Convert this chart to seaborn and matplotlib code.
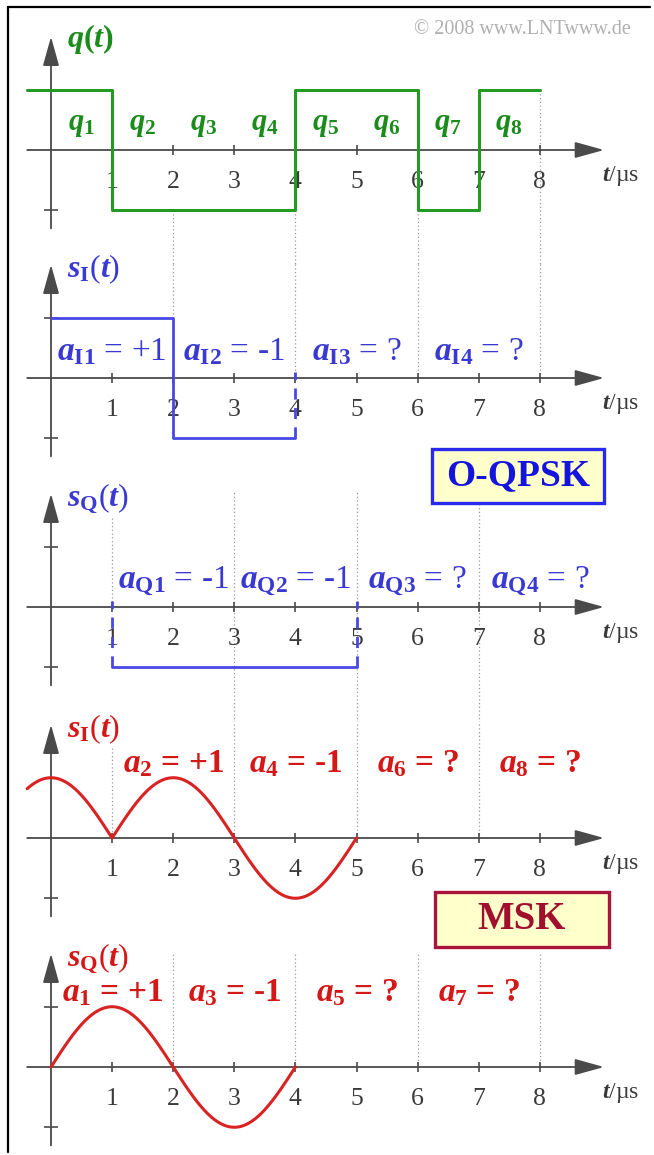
import numpy as np
import pandas as pd
import matplotlib
matplotlib.use("Agg")
import matplotlib.pyplot as plt
import seaborn as sns
from matplotlib.patches import Rectangle
from matplotlib.lines import Line2D

# ---------------- data ----------------
q_symbols = [+1, -1, -1, -1, +1, +1, -1, +1]          # q1 .. q8, T_B = 1 us
q_labels = [rf"$\mathbfit{{q}}_{{\mathbf{{{k}}}}}$" for k in range(1, 9)]

oqpsk_I_symbols = [+1, -1]                             # a_I1, a_I2 (2 us each, from t=0)
oqpsk_Q_symbols = [-1, -1]                             # a_Q1, a_Q2 (2 us each, from t=1)
oqpsk_I_text = ["+1", "-1", "?", "?"]
oqpsk_Q_text = ["-1", "-1", "?", "?"]

msk_I_symbols = [+1, +1, -1]                           # a0 (preceding), a2, a4
msk_Q_symbols = [+1, -1]                               # a1, a3
msk_I_text = ["+1", "-1", "?", "?"]                    # a2, a4, a6, a8
msk_Q_text = ["+1", "-1", "?", "?"]                    # a1, a3, a5, a7

tick_values = list(range(1, 9))

# ---------------- style ----------------
sns.set_theme(style="white")
plt.rcParams["font.family"] = ["Liberation Serif", "DejaVu Serif"]
plt.rcParams["mathtext.fontset"] = "custom"
plt.rcParams["mathtext.rm"] = "Liberation Serif"
plt.rcParams["mathtext.it"] = "Liberation Serif:italic"
plt.rcParams["mathtext.bf"] = "Liberation Serif:bold"
plt.rcParams["mathtext.bfit"] = "Liberation Serif:bold:italic"

AX = "#4a4a4a"
GREEN = "#239b23"
GREEN_TXT = "#1b8c1b"
BLUE = "#4848e4"
BLUE_TXT = "#3a3ad2"
RED = "#d92222"
RED_TXT = "#d41818"
DOT = "#9a9a9a"

LABEL_FS = 24
TITLE_FS = 23

W, H = 654, 1155
fig = plt.figure(figsize=(W / 100, H / 100), dpi=100)
fig.patch.set_facecolor("white")

T0_PX, PX_PER_T = 51, 61.1
XLIM = (-T0_PX / PX_PER_T, (W - T0_PX) / PX_PER_T)
SLOT = 229
YLIM = (-1.9, 1.9)
zero_px = [150, 378, 607, 838, 1067]
T_START, T_ARROW = -0.39, 9.05


def make_axes(zp):
    bottom = (H - (zp + SLOT / 2)) / H
    ax = fig.add_axes([0, bottom, 1, SLOT / H])
    ax.set_xlim(XLIM)
    ax.set_ylim(YLIM)
    ax.set_axis_off()
    ax.patch.set_alpha(0)
    return ax


def draw_frame(ax):
    arrow = dict(arrowstyle="-|>,head_length=18,head_width=5", mutation_scale=1,
                 lw=1.3, color=AX, shrinkA=0, shrinkB=0)
    ax.annotate("", xy=(T_ARROW, 0), xytext=(T_START, 0), arrowprops=arrow, zorder=2)
    ax.annotate("", xy=(0, 1.88), xytext=(0, -1.3), arrowprops=arrow, zorder=2)
    ax.vlines(tick_values, -0.08, 0.08, color=AX, lw=1.2, zorder=2)
    ax.hlines([-1, 1], -0.11, 0.11, color=AX, lw=1.2, zorder=2)
    for k in tick_values:
        ax.text(k, -0.53, str(k), ha="center", va="center", fontsize=18.5,
                color="#3a3a3a", zorder=1)
    ax.text(9.32, -0.43, r"$\mathbfit{t}$/µs", ha="center", va="center",
            fontsize=17, color="#3a3a3a")


def dotted(ax, specs):
    for t, y0, y1 in specs:
        ax.vlines(t, y0, y1, color=DOT, lw=0.9, linestyles=(0, (1, 2)), zorder=0)


def rect_points(t0, width, symbols, first=None):
    xs, ys = [], []
    for i, s in enumerate(symbols):
        xs += [t0 + i * width, t0 + (i + 1) * width]
        ys += [s, s]
    if first is not None:
        xs[0] = first
    return xs, ys


def msk_points(symbols, centers, shape, t_from, t_to):
    frames = []
    for a, c in zip(symbols, centers):
        lo, hi = max(c - 1, t_from), min(c + 1, t_to)
        tt = np.linspace(lo, hi, 120)
        frames.append(pd.DataFrame({"t": tt, "s": a * np.abs(shape(np.pi * tt / 2))}))
    return pd.concat(frames, ignore_index=True)


axes = [make_axes(z) for z in zero_px]
for ax in axes:
    draw_frame(ax)

# ---- panel 1: q(t) ----
ax = axes[0]
dotted(ax, [(2, -1, -1.9), (4, -1, -1.9), (6, -1, -1.9), (8, 1, -1.9)])
xq, yq = rect_points(0, 1, q_symbols, first=T_START)
sns.lineplot(x=xq, y=yq, ax=ax, color=GREEN, lw=2.2, sort=False, estimator=None, zorder=3)
for k, lab in enumerate(q_labels):
    ax.text(k + 0.5, 0.43, lab, ha="center", va="center", fontsize=22, color=GREEN_TXT)
ax.text(0.27, 1.85, r"$\mathbfit{q}\mathbf{(}\mathbfit{t}\mathbf{)}$", ha="left",
        va="center", fontsize=TITLE_FS, color=GREEN_TXT)

# ---- panel 2: O-QPSK in-phase ----
ax = axes[1]
dotted(ax, [(2, 1.9, 1), (4, 1.9, 0), (6, 1.9, 0), (8, 1.9, 0)])
xi, yi = rect_points(0, 2, oqpsk_I_symbols)
sns.lineplot(x=xi, y=yi, ax=ax, color=BLUE, lw=2.0, sort=False, estimator=None, zorder=3)
ax.vlines(xi[-1], yi[-1], 0.1, color=BLUE, lw=2.0, linestyles=(0, (4, 3)), zorder=3)
for k, v in enumerate(oqpsk_I_text):
    ax.text(2 * k + 1, 0.43, rf"$\mathbfit{{a}}_{{\mathbf{{I{k + 1}}}}}$ = {v}",
            ha="center", va="center", fontsize=LABEL_FS, color=BLUE_TXT)
ax.text(0.27, 1.81, r"$\mathbfit{s}_{\mathbf{I}}(\mathbfit{t})$", ha="left",
        va="center", fontsize=TITLE_FS, color=BLUE_TXT)

# ---- panel 3: O-QPSK quadrature ----
ax = axes[2]
dotted(ax, [(1, 1.48, 0), (3, 2.52, -1.9), (5, 2.52, -1.9), (7, 2.52, -1.9)])
xqq, yqq = rect_points(1, 2, oqpsk_Q_symbols)
sns.lineplot(x=xqq, y=yqq, ax=ax, color=BLUE, lw=2.0, sort=False, estimator=None, zorder=3)
ax.vlines([xqq[0], xqq[-1]], [yqq[0], yqq[-1]], 0.1, color=BLUE, lw=2.0,
          linestyles=(0, (4, 3)), zorder=3)
for k, v in enumerate(oqpsk_Q_text):
    ax.text(2 * k + 2, 0.42, rf"$\mathbfit{{a}}_{{\mathbf{{Q{k + 1}}}}}$ = {v}",
            ha="center", va="center", fontsize=LABEL_FS, color=BLUE_TXT)
ax.text(0.27, 1.79, r"$\mathbfit{s}_{\mathbf{Q}}(\mathbfit{t})$", ha="left",
        va="center", fontsize=TITLE_FS, color=BLUE_TXT)

# ---- panel 4: MSK in-phase ----
ax = axes[3]
dotted(ax, [(1, 1.5, 0), (3, 1.9, 0), (5, 1.9, 0), (7, 1.9, 0)])
dfi = msk_points(msk_I_symbols, [0, 2, 4], np.cos, T_START, 5)
sns.lineplot(data=dfi, x="t", y="s", ax=ax, color=RED, lw=2.2, sort=False,
             estimator=None, zorder=3)
for k, v in enumerate(msk_I_text):
    ax.text(2 * k + 2, 1.23, rf"$\mathbfit{{a}}_{{\mathbf{{{2 * k + 2}}}}}$ = {v}",
            ha="center", va="center", fontsize=LABEL_FS, color=RED_TXT, fontweight="bold")
ax.text(0.27, 1.81, r"$\mathbfit{s}_{\mathbf{I}}(\mathbfit{t})$", ha="left",
        va="center", fontsize=TITLE_FS, color=RED_TXT)

# ---- panel 5: MSK quadrature ----
ax = axes[4]
dotted(ax, [(2, 2.56, 0), (4, 2.56, 0), (6, 2.56, 0), (8, 2.56, 0)])
dfq = msk_points(msk_Q_symbols, [1, 3], np.sin, 0, 4)
sns.lineplot(data=dfq, x="t", y="s", ax=ax, color=RED, lw=2.2, sort=False,
             estimator=None, zorder=3)
for k, v in enumerate(msk_Q_text):
    ax.text(2 * k + 1, 1.24, rf"$\mathbfit{{a}}_{{\mathbf{{{2 * k + 1}}}}}$ = {v}",
            ha="center", va="center", fontsize=LABEL_FS, color=RED_TXT, fontweight="bold")
ax.text(0.27, 1.79, r"$\mathbfit{s}_{\mathbf{Q}}(\mathbfit{t})$", ha="left",
        va="center", fontsize=TITLE_FS, color=RED_TXT)

for ax in axes:
    if ax.get_legend() is not None:
        ax.get_legend().remove()


# ---- boxes, copyright and frame (figure pixel layout) ----
def px_box(x0, y0, x1, y1, edge, text, tcolor, fs):
    r = Rectangle((x0 / W, 1 - y1 / H), (x1 - x0) / W, (y1 - y0) / H,
                  transform=fig.transFigure, facecolor="#ffffcc", edgecolor=edge,
                  lw=2.4, zorder=10)
    fig.add_artist(r)
    fig.text((x0 + x1) / 2 / W, 1 - (y0 + y1) / 2 / H, text, ha="center", va="center",
             fontsize=fs, fontweight="bold", color=tcolor, zorder=11)


px_box(432, 449, 604, 503, "#2a2aee", "O-QPSK", "#1414dc", 27)
px_box(435, 892, 609, 947, "#a8143a", "MSK", "#a0102e", 28)

fig.text(522 / W, 1 - 30 / H, "© 2008 www.LNTwww.de", ha="center", va="center",
         fontsize=14.5, color="#b0b0b0")
fig.add_artist(Line2D([8 / W, 650 / W], [1 - 7 / H, 1 - 7 / H], transform=fig.transFigure,
                      color="black", lw=1.6))
fig.add_artist(Line2D([8 / W, 8 / W], [1 - 7 / H, 1 - 1152 / H], transform=fig.transFigure,
                      color="black", lw=1.6))

fig.savefig("out.png", dpi=100, facecolor="white")
